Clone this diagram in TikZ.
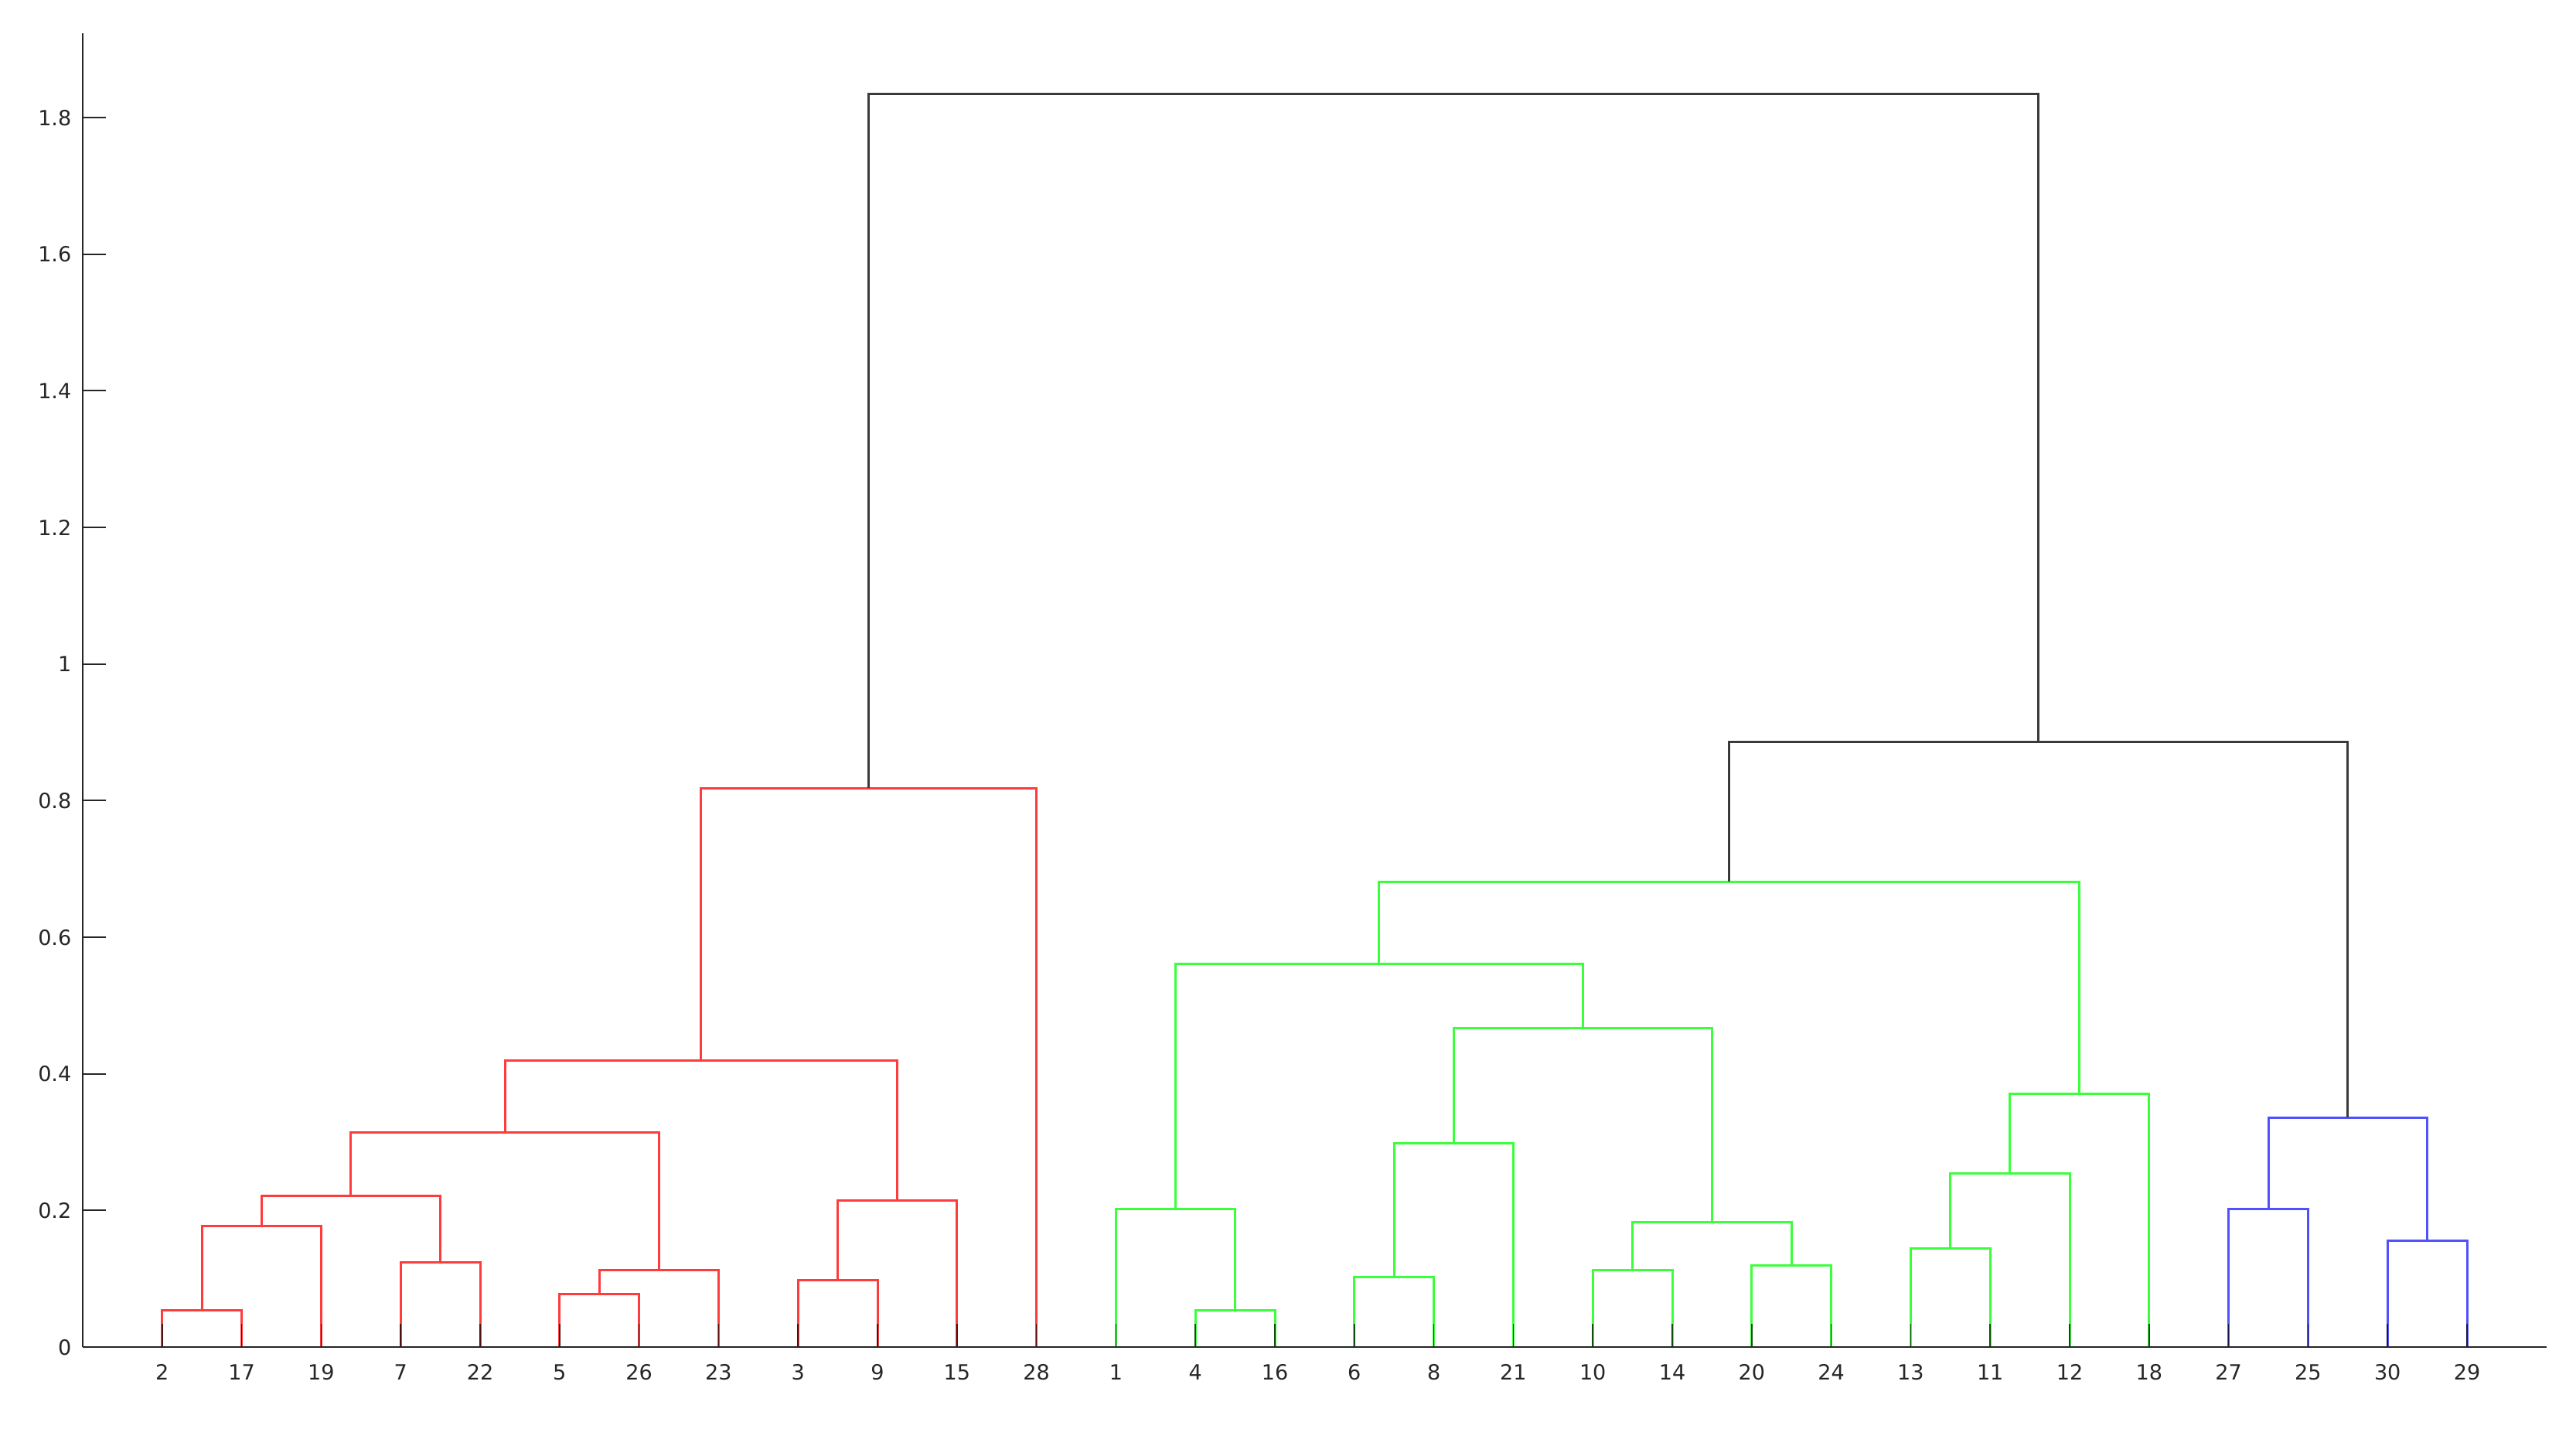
\documentclass[tikz,border=0pt]{standalone}
\usepackage{fontspec}
\newfontfamily\lblfont{DejaVu Sans}
\definecolor{axc}{HTML}{262626}
\definecolor{cred}{RGB}{255,60,60}
\definecolor{cgrn}{RGB}{60,255,60}
\definecolor{cblu}{RGB}{80,80,255}
\definecolor{cblk}{HTML}{3A3A3A}
\tikzset{
  redl/.style={draw=cred,line width=0.85pt},
  grnl/.style={draw=cgrn,line width=0.85pt},
  blul/.style={draw=cblu,line width=0.85pt},
  blkl/.style={draw=cblk,line width=0.85pt},
  axisl/.style={draw=axc,line width=0.6pt},
  tickl/.style={draw=black,opacity=0.7,line width=0.45pt},
  xlab/.style={anchor=base,yshift=-0.43cm,text=axc,inner sep=0pt,font=\lblfont\fontsize{7.7}{9}\selectfont},
  ylab/.style={anchor=base east,xshift=-0.14cm,yshift=-0.10cm,text=axc,inner sep=0pt,font=\lblfont\fontsize{7.7}{9}\selectfont}
}
\begin{document}
\begin{tikzpicture}[x=1.028cm,y=8.833cm]
\useasboundingbox (-1.07cm,-1.06cm) rectangle (32.25cm,17.42cm);
% leaves
\foreach \lab [count=\i] in {2,17,19,7,22,5,26,23,3,9,15,28,1,4,16,6,8,21,10,14,20,24,13,11,12,18,27,25,30,29}{
  \coordinate (L\lab) at (\i,0);
  \node[xlab] (t\lab) at (\i,0) {\lab};
}
% merge points
\coordinate (ma) at (1.5,0.0535);
\coordinate (mb) at (2.25,0.177);
\coordinate (mc) at (4.5,0.124);
\coordinate (md) at (3.375,0.221);
\coordinate (me) at (6.5,0.0778);
\coordinate (mf) at (7.25,0.1123);
\coordinate (mg) at (5.3125,0.3146);
\coordinate (mh) at (9.5,0.0975);
\coordinate (mi) at (10.25,0.2144);
\coordinate (mj) at (7.78125,0.419);
\coordinate (mk) at (9.890625,0.818);
\coordinate (ml) at (14.5,0.0535);
\coordinate (mm) at (13.75,0.2023);
\coordinate (mn) at (16.5,0.102);
\coordinate (mo) at (17.25,0.2987);
\coordinate (mp) at (19.5,0.1123);
\coordinate (mq) at (21.5,0.1192);
\coordinate (mr) at (20.5,0.183);
\coordinate (ms) at (18.875,0.467);
\coordinate (mt) at (16.3125,0.561);
\coordinate (mu) at (23.5,0.1444);
\coordinate (mv) at (24.25,0.2545);
\coordinate (mw) at (25.125,0.3705);
\coordinate (mx) at (20.71875,0.681);
\coordinate (my) at (27.5,0.2025);
\coordinate (mz) at (29.5,0.156);
\coordinate (maa) at (28.5,0.3357);
\coordinate (mbb) at (24.609375,0.886);
\coordinate (mroot) at (17.25,1.835);
% red cluster
\draw[redl] (L2) |- (ma) -| (L17);
\draw[redl] (ma) |- (mb) -| (L19);
\draw[redl] (L7) |- (mc) -| (L22);
\draw[redl] (mb) |- (md) -| (mc);
\draw[redl] (L5) |- (me) -| (L26);
\draw[redl] (me) |- (mf) -| (L23);
\draw[redl] (md) |- (mg) -| (mf);
\draw[redl] (L3) |- (mh) -| (L9);
\draw[redl] (mh) |- (mi) -| (L15);
\draw[redl] (mg) |- (mj) -| (mi);
\draw[redl] (mj) |- (mk) -| (L28);
% green cluster
\draw[grnl] (L4) |- (ml) -| (L16);
\draw[grnl] (L1) |- (mm) -| (ml);
\draw[grnl] (L6) |- (mn) -| (L8);
\draw[grnl] (mn) |- (mo) -| (L21);
\draw[grnl] (L10) |- (mp) -| (L14);
\draw[grnl] (L20) |- (mq) -| (L24);
\draw[grnl] (mp) |- (mr) -| (mq);
\draw[grnl] (mo) |- (ms) -| (mr);
\draw[grnl] (mm) |- (mt) -| (ms);
\draw[grnl] (L13) |- (mu) -| (L11);
\draw[grnl] (mu) |- (mv) -| (L12);
\draw[grnl] (mv) |- (mw) -| (L18);
\draw[grnl] (mt) |- (mx) -| (mw);
% blue cluster
\draw[blul] (L27) |- (my) -| (L25);
\draw[blul] (L30) |- (mz) -| (L29);
\draw[blul] (my) |- (maa) -| (mz);
% black links
\draw[blkl] (mx) |- (mbb) -| (maa);
\draw[blkl] (mk) |- (mroot) -| (mbb);
% leaf ticks
\foreach \lab in {2,17,19,7,22,5,26,23,3,9,15,28,1,4,16,6,8,21,10,14,20,24,13,11,12,18,27,25,30,29}{
  \draw[tickl] (L\lab) -- ++(0,0.30cm);
}
% axes
\coordinate (o) at (0,0);
\coordinate (xend) at (31,0);
\coordinate (ytop) at (0,1.923);
\draw[axisl] (o) -- (xend);
\draw[axisl] (o) -- (ytop);
\foreach \v/\t [count=\k] in {0/0,0.2/0.2,0.4/0.4,0.6/0.6,0.8/0.8,1/1,1.2/1.2,1.4/1.4,1.6/1.6,1.8/1.8}{
  \coordinate (yt\k) at (0,\v);
  \draw[axisl] (yt\k) -- ++(0.30cm,0);
  \node[ylab] (yl\k) at (yt\k) {\t};
}
\end{tikzpicture}
\end{document}
